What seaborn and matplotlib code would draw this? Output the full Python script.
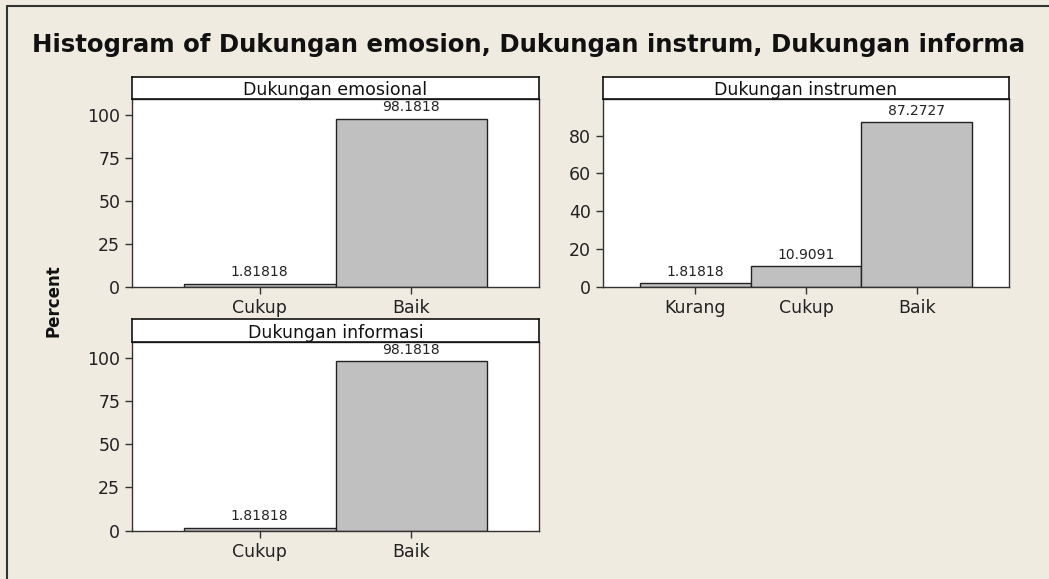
import matplotlib
matplotlib.use('Agg')
import matplotlib.pyplot as plt
import seaborn as sns
from matplotlib.lines import Line2D

# datos (porcentajes)
cats_emosional = ['Cukup', 'Baik']
pct_emosional = [1.81818, 98.1818]

cats_instrumen = ['Kurang', 'Cukup', 'Baik']
pct_instrumen = [1.81818, 10.9091, 87.2727]

cats_informasi = ['Cukup', 'Baik']
pct_informasi = [1.81818, 98.1818]

titulos = ['Dukungan emosional', 'Dukungan instrumen', 'Dukungan informasi']
yticks_100 = [0, 25, 50, 75, 100]
yticks_80 = [0, 20, 40, 60, 80]

sns.set_style('white')
plt.rcParams['font.family'] = ['DejaVu Sans']

bg = '#EFEBE1'
bar_color = '#C0C0C0'
dark = '#222222'

W, H = 1049, 579
fig = plt.figure(figsize=(W / 100, H / 100), dpi=100, facecolor=bg)

# borde a la izquierda y arriba
fig.add_artist(Line2D([7 / W, 7 / W], [0, 1 - 6 / H], transform=fig.transFigure, color='#333333', lw=1.5))
fig.add_artist(Line2D([7 / W, 1], [1 - 6 / H, 1 - 6 / H], transform=fig.transFigure, color='#333333', lw=1.5))


def panel(left, right, top_strip, top_plot, bottom_plot, cats, vals, titulo, yticks, ytop, xlim):
    ax = fig.add_axes([left / W, 1 - bottom_plot / H, (right - left) / W, (bottom_plot - top_plot) / H])
    ax.set_facecolor('white')
    sns.barplot(x=cats, y=vals, ax=ax, color=bar_color, edgecolor=dark,
                linewidth=1, width=1, saturation=1)
    ax.set_xlim(*xlim)
    ax.set_ylim(0, ytop)
    ax.set_yticks(yticks)
    ax.bar_label(ax.containers[0], labels=['%.6g' % v for v in vals],
                 padding=3, fontsize=10, color='#222222')
    ax.tick_params(axis='both', direction='out', length=5, width=1, color='#333333',
                   labelsize=12.5, labelcolor='#222222', left=True, bottom=True)
    for s in ax.spines.values():
        s.set_color('#333333')
        s.set_linewidth(1)
    ax.set_xlabel('')
    ax.set_ylabel('')
    # barra del titulo del panel
    sx = fig.add_axes([left / W, 1 - top_plot / H, (right - left) / W, (top_plot - top_strip) / H])
    sx.set_facecolor('white')
    sx.set_xticks([])
    sx.set_yticks([])
    for s in sx.spines.values():
        s.set_color('#111111')
        s.set_linewidth(1.2)
    sx.text(0.5, 0.42, titulo, ha='center', va='center', fontsize=12.5, color='#111111',
            transform=sx.transAxes)
    return ax


panel(132, 539, 77, 99.3, 286.7, cats_emosional, pct_emosional, titulos[0],
      yticks_100, 109.4, (-0.84, 1.84))
panel(603, 1009, 77, 99.3, 286.7, cats_instrumen, pct_instrumen, titulos[1],
      yticks_80, 99.3, (-0.83, 2.83))
panel(132, 539, 319.3, 342.3, 530.7, cats_informasi, pct_informasi, titulos[2],
      yticks_100, 108.9, (-0.84, 1.84))

fig.text(529 / W, 1 - 52 / H, 'Histogram of Dukungan emosion, Dukungan instrum, Dukungan informa',
         ha='center', va='baseline', fontsize=17.6, fontweight='bold', color='#111111')
fig.text(53 / W, 1 - 301 / H, 'Percent', rotation=90, ha='center', va='center',
         fontsize=12, fontweight='bold', color='#111111')

fig.savefig('out.png', dpi=100, facecolor=bg)
